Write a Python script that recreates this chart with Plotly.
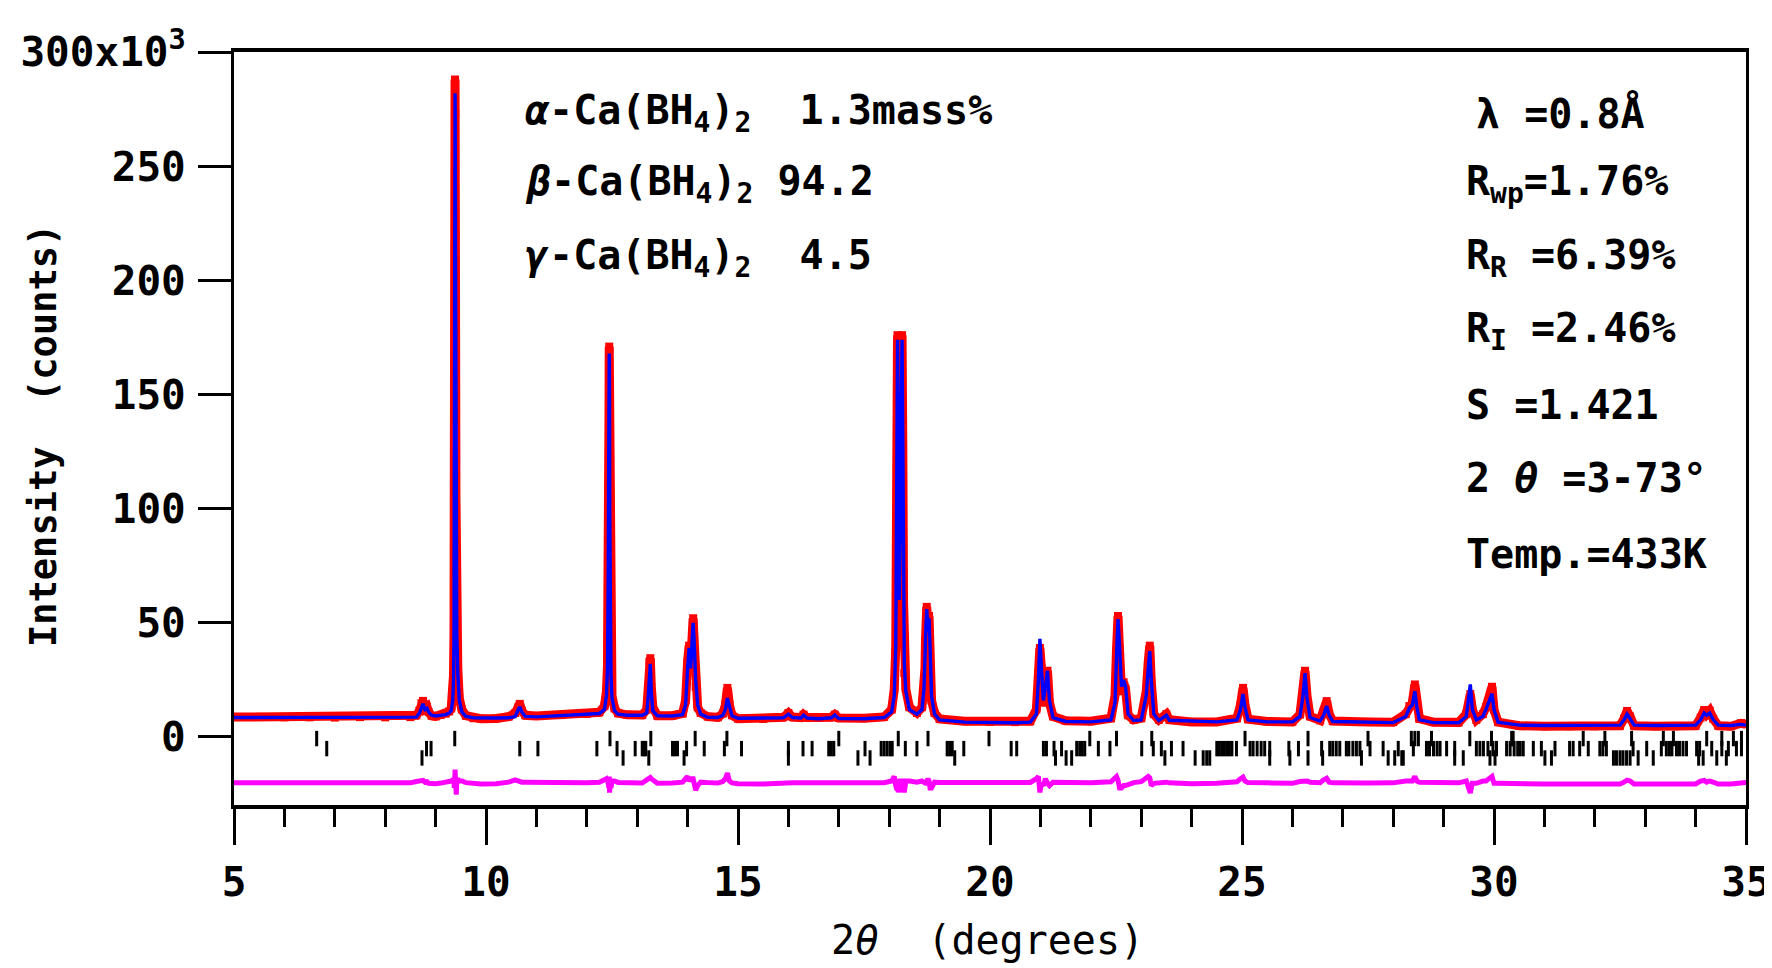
import plotly.graph_objects as go

# ---------------- data (intensity in 10^3 counts) ----------------
tth = [5.0, 5.5, 6.0, 6.5, 7.0, 7.5, 8.0, 8.5,
       8.62, 8.68, 8.72, 8.75, 8.79, 8.83, 8.86, 8.92, 9.0, 9.1, 9.2, 9.27,
       9.31, 9.34, 9.355, 9.365, 9.372, 9.378, 9.382, 9.386, 9.39, 9.394, 9.398, 9.404, 9.41, 9.42, 9.44, 9.47, 9.52, 9.6, 9.75, 9.9, 10.2, 10.45,
       10.58, 10.64, 10.67, 10.71, 10.78, 11.0, 11.5, 12.0, 12.25,
       12.35, 12.39, 12.41, 12.42, 12.425, 12.43, 12.435, 12.44, 12.445, 12.45, 12.455, 12.46, 12.47, 12.48, 12.5, 12.55, 12.62, 12.8, 13.1,
       13.19, 13.22, 13.245, 13.26, 13.28, 13.31, 13.4, 13.7, 13.9,
       13.96, 14.0, 14.03, 14.06, 14.09, 14.11, 14.13, 14.16, 14.2, 14.26, 14.4, 14.6, 14.7,
       14.75, 14.79, 14.83, 14.88, 15.0, 15.5, 15.9, 16.0, 16.08, 16.25, 16.3, 16.37, 16.6, 16.85, 16.92, 17.0, 17.5, 17.9, 18.05,
       18.1, 18.13, 18.145, 18.155, 18.165, 18.18, 18.2, 18.22, 18.24, 18.255, 18.27, 18.285, 18.3, 18.33, 18.4, 18.55, 18.65,
       18.69, 18.71, 18.72, 18.73, 18.745, 18.77, 18.79, 18.81, 18.84, 18.9, 19.0, 19.5, 20.0, 20.5, 20.8,
       20.92, 20.96, 20.99, 21.02, 21.06, 21.1, 21.14, 21.18, 21.25, 21.5, 22.0, 22.4,
       22.48, 22.51, 22.54, 22.57, 22.61, 22.65, 22.69, 22.74, 22.85, 23.0, 23.1,
       23.14, 23.17, 23.2, 23.25, 23.35, 23.5, 23.56, 24.0, 24.5, 24.9,
       24.97, 25.02, 25.06, 25.12, 25.5, 26.0, 26.15,
       26.21, 26.25, 26.29, 26.35, 26.55, 26.62, 26.68, 26.73, 26.8, 27.5, 28.0, 28.25, 28.32, 28.38, 28.43, 28.47, 28.52,
       28.8, 29.3, 29.45, 29.53, 29.57, 29.65, 29.78, 29.84, 29.96, 30.0, 30.08, 30.5, 31.0, 31.5, 32.0, 32.5, 32.58,
       32.64, 32.7, 32.78, 33.2, 33.6, 34.0, 34.1, 34.17, 34.22, 34.28, 34.35, 34.45, 34.7, 34.9, 35.0]

i_calc = [8.5, 8.5, 8.5, 8.4, 8.4, 8.4, 8.4, 8.5,
          8.7, 10.5, 13.5, 14.5, 12.0, 12.5, 11.0, 9.5, 9.2, 9.5, 9.8, 10.5,
          11.5, 16, 25, 45, 90, 147, 212, 282, 270, 220, 168, 110, 65, 45, 28, 16, 11, 9.0, 8.4, 8.3, 8.3, 8.4,
          9.0, 12.0, 13.2, 11.0, 9.0, 8.8, 9.3, 9.8, 10.3,
          12, 18, 30, 45, 70, 97, 112, 141, 168, 158, 98, 60, 40, 27, 17, 11.5, 10.0, 9.5, 9.5,
          10.5, 18, 31, 32, 20, 11.5, 9.3, 9.2, 9.8,
          14, 30, 39, 30, 44, 50, 42, 25, 14, 10, 8.6, 8.5, 9.5,
          12, 17, 13, 9.3, 8.2, 8.2, 8.4, 10.0, 8.5, 8.3, 9.6, 8.3, 8.0, 8.4, 9.6, 8.1, 8.0, 8.5, 11,
          18, 40, 95, 145, 174, 140, 60, 95, 150, 174, 130, 60, 32, 20, 12, 10, 12,
          21, 30, 42, 49, 56, 46, 52, 40, 18, 10, 7.5, 6.5, 6.2, 6.2, 6.5,
          10, 25, 43, 30, 16, 22, 29, 16, 8.5, 6.8, 6.6, 7.5,
          15, 35, 51.6, 40, 22, 25, 22, 10, 7.2, 7.5, 18,
          30, 37.6, 25, 10, 7.2, 9.5, 7.3, 6.8, 6.6, 7.5,
          12, 18.8, 13, 7.5, 6.6, 6.6, 9.0,
          18, 28, 17, 8.5, 7.0, 9.5, 13.5, 9.5, 6.8, 6.5, 6.3, 9.0, 12.7, 14, 20, 13, 7.5,
          6.3, 6.2, 9, 23, 12, 7.5, 9, 12, 19, 12, 6.5, 5.2, 5.0, 5.0, 5.0, 5.2, 7.5,
          10, 8, 5.2, 5.0, 5.0, 5.2, 7.5, 10.5, 9.5, 10.5, 7.5, 5.2, 5.0, 5.5, 5.2]

i_obs = [8.7, 8.8, 8.6, 8.6, 8.5, 8.7, 8.6, 8.7,
         9.5, 11.5, 14.8, 15.8, 12.5, 13.2, 11.0, 9.3, 9.0, 9.6, 10.2, 11.2,
         12.5, 17.5, 27, 46, 88, 147, 214, 288, 273, 220, 166, 105, 60, 45, 30, 17, 12, 9.3, 8.2, 8.0, 8.1, 8.9,
         10.5, 13.0, 14.5, 11.5, 9.5, 9.2, 9.6, 10.1, 10.8,
         13.5, 20, 31, 46, 70, 97, 110, 141, 171, 155, 95, 59, 38.5, 25, 18, 12.5, 10.4, 9.7, 9.6,
         12, 20, 33, 34.5, 22, 13, 9.3, 9.3, 10.3,
         16, 33, 40, 32, 46, 52, 42, 22, 13, 10.5, 8.9, 8.6, 10.3,
         14, 21.5, 14, 9.5, 8.0, 7.9, 8.6, 10.5, 8.7, 8.5, 9.8, 8.5, 8.3, 8.6, 9.8, 8.3, 8.2, 8.8, 12,
         21, 39, 92, 142, 176, 136, 59, 97, 146, 176, 128, 59, 28, 21, 13, 10.5, 13,
         21, 30, 42, 49, 57, 48, 53, 38, 16, 10.5, 7.9, 6.9, 6.6, 6.5, 6.9,
         12, 28, 39, 30, 15, 24, 29, 15, 9, 7.1, 6.9, 8.2,
         18, 38, 53, 38, 20, 24, 21, 9.5, 7.5, 8.2, 20,
         33, 40, 24, 10, 7.5, 10, 7.5, 6.6, 6.6, 8.2,
         14, 21.5, 14, 7.8, 6.8, 6.6, 9.8,
         19, 29, 18, 9, 7.3, 11, 15.7, 10, 7.0, 6.6, 6.5, 10, 13.5, 15, 23, 14, 8,
         6.5, 6.4, 10, 18.8, 12, 7.5, 10, 13, 22, 12, 6.5, 4.9, 4.7, 4.7, 4.7, 4.9, 8,
         11.4, 9, 4.9, 4.7, 4.7, 4.9, 8.5, 11.8, 10, 11.5, 8, 4.9, 4.7, 6.0, 5.6]

diff_offset = -20.3

# Bragg reflection positions (three phases, three rows)
bragg_row1 = [6.64, 9.38, 12.46, 13.27, 14.15, 14.78, 17.00, 18.18, 18.77, 19.98, 21.98, 22.51, 23.21,
              25.06, 26.31, 27.50, 28.36, 28.43, 28.50, 28.76, 29.52, 29.95, 30.35, 30.38, 31.77, 32.20,
              32.73, 33.36, 33.56, 34.22, 34.52, 34.75, 34.91]
bragg_row2 = [6.84, 8.82, 8.91, 10.67, 11.03, 12.20, 12.60, 12.96, 13.10, 13.14, 13.17, 13.70, 13.75, 13.80,
              13.98, 14.33, 14.73, 15.07, 16.00, 16.29, 16.47, 16.80, 16.85, 16.90, 17.52, 17.84, 17.90,
              17.96, 18.02, 18.06, 18.32, 18.55, 19.15, 19.20, 19.25, 19.48, 20.42, 20.53, 21.06, 21.12,
              21.27, 21.42, 21.72, 21.78, 21.83, 21.88, 22.15, 22.38, 23.01, 23.24, 23.40, 23.60, 23.83,
              24.50, 24.55, 24.60, 24.65, 24.70, 24.75, 24.80, 24.89, 25.16, 25.22, 25.30, 25.38, 25.45,
              25.55, 25.93, 26.12, 26.58, 26.74, 26.80, 26.87, 26.94, 27.07, 27.12, 27.20, 27.27, 27.34,
              27.54, 27.80, 28.10, 28.40, 28.66, 28.72, 28.80, 28.87, 28.93, 29.06, 29.22, 29.65, 29.72,
              29.79, 29.88, 29.98, 30.05, 30.25, 30.32, 30.40, 30.47, 30.52, 30.58, 30.78, 30.94, 31.21,
              31.50, 31.57, 31.70, 31.87, 32.10, 32.16, 32.23, 32.76, 33.03, 33.32, 33.42, 33.48, 33.53,
              33.62, 33.68, 33.75, 33.82, 34.02, 34.08, 34.32, 34.52, 34.65, 34.81, 34.91]
bragg_row3 = [8.73, 12.72, 13.23, 13.93, 16.00, 17.38, 17.62, 19.30, 21.30, 21.51, 21.62, 23.47, 24.07,
              24.23, 24.30, 24.36, 25.55, 25.95, 26.31, 26.60, 27.37, 27.90, 28.03, 28.17, 28.20, 29.22,
              29.39, 29.92, 30.02, 31.01, 31.14, 32.37, 32.43, 32.50, 32.56, 32.63, 32.70, 32.86, 33.16,
              34.06, 34.15, 34.42, 34.61]
bragg_levels = [-0.7, -5.1, -9.2]

y_tickvals = [0, 50, 100, 150, 200, 250, 300]
y_ticktext = ["0", "50", "100", "150", "200", "250", "300x10<sup>3</sup>"]
x_tickvals = [5, 10, 15, 20, 25, 30, 35]

phase_text = ["<i>α</i>-Ca(BH<sub>4</sub>)<sub>2</sub>\u00a0\u00a01.3mass%",
              "<i>β</i>-Ca(BH<sub>4</sub>)<sub>2</sub>\u00a094.2",
              "<i>γ</i>-Ca(BH<sub>4</sub>)<sub>2</sub>\u00a0\u00a04.5"]
info_text = ["λ\u00a0=0.8Å", "R<sub>wp</sub>=1.76%", "R<sub>R</sub>\u00a0=6.39%",
             "R<sub>I</sub>\u00a0=2.46%", "S\u00a0=1.421", "2\u00a0<i>θ</i>\u00a0=3-73°", "Temp.=433K"]

assert len(tth) == len(i_calc) == len(i_obs)
i_diff = [o - c + diff_offset for o, c in zip(i_obs, i_calc)]

# ---------------- figure ----------------
# page body has an 8px margin: figure coords = page coords - 8
OFF = 8
W, H = 1764, 960
PL, PR, PT, PB = 234, 1746, 52, 805          # plot area in page pixels
L, T = PL - OFF, PT - OFF
R = W - (PR - OFF)
B = H - (PB - OFF)
PW, PH = PR - PL, PB - PT
MONO = "DejaVu Sans Mono"


def px(xp):
    return (xp - PL) / PW


def py(yp):
    return (PB - yp) / PH


fig = go.Figure()
fig.add_trace(go.Scatter(x=tth, y=i_obs, mode="lines+markers",
                         line=dict(color="#ff0000", width=9),
                         marker=dict(symbol="square", size=8, color="#ff0000"),
                         name="obs", showlegend=False))
fig.add_trace(go.Scatter(x=tth, y=i_calc, mode="lines",
                         line=dict(color="#0000ff", width=3.4),
                         name="calc", showlegend=False))
fig.add_trace(go.Scatter(x=tth, y=i_diff, mode="lines",
                         line=dict(color="#ff00ff", width=5),
                         name="diff", showlegend=False))
for row, lev in zip([bragg_row1, bragg_row2, bragg_row3], bragg_levels):
    fig.add_trace(go.Scatter(x=row, y=[lev] * len(row), mode="markers",
                             marker=dict(symbol="line-ns", size=11,
                                         line=dict(color="black", width=3)),
                             showlegend=False))

fig.update_xaxes(range=[5, 35], tickvals=x_tickvals, ticks="outside", ticklen=36, tickwidth=3,
                 tickcolor="black", showline=True, linecolor="black", linewidth=4, mirror=True,
                 showgrid=False, zeroline=False, ticklabelstandoff=2, ticklabeloverflow="allow",
                 tickfont=dict(family=MONO, size=41, color="black", weight="bold"),
                 minor=dict(dtick=1, ticks="outside", ticklen=18, tickwidth=3, tickcolor="black",
                            showgrid=False))
fig.update_yaxes(range=[-29.8, 300.05], tickvals=y_tickvals, ticktext=y_ticktext, ticks="outside",
                 ticklen=33, tickwidth=3, tickcolor="black", showline=True, linecolor="black",
                 linewidth=3, mirror=True, showgrid=False, zeroline=False, ticklabelstandoff=4,
                 tickfont=dict(family=MONO, size=41, color="black", weight="bold"))

ann = []
for i, t in enumerate(phase_text):
    ann.append(dict(x=px(523), y=py([113, 184, 258][i]), xref="paper", yref="paper", text=t,
                    showarrow=False, xanchor="left", yanchor="middle",
                    font=dict(family=MONO, size=40, color="black", weight="bold")))
info_y = [113, 184, 258, 331, 405, 478, 554]
for t, yy in zip(info_text, info_y):
    xx = 1474 if t.startswith("λ") else 1464
    ann.append(dict(x=px(xx), y=py(yy), xref="paper", yref="paper", text=t,
                    showarrow=False, xanchor="left", yanchor="middle",
                    font=dict(family=MONO, size=40, color="black", weight="bold")))
ann.append(dict(x=px(43), y=py(435), xref="paper", yref="paper",
                text="Intensity\u00a0\u00a0(counts)", textangle=-90, showarrow=False,
                xanchor="center", yanchor="middle",
                font=dict(family=MONO, size=37, color="black", weight="bold")))
ann.append(dict(x=px(987), y=py(940), xref="paper", yref="paper",
                text="2<i>θ</i>\u00a0\u00a0(degrees)", showarrow=False,
                xanchor="center", yanchor="middle",
                font=dict(family=MONO, size=40, color="black")))

fig.update_layout(width=W, height=H, margin=dict(l=L, r=R, t=T, b=B, autoexpand=False),
                  plot_bgcolor="white", paper_bgcolor="white", annotations=ann,
                  showlegend=False)

fig.write_html("out.html")
